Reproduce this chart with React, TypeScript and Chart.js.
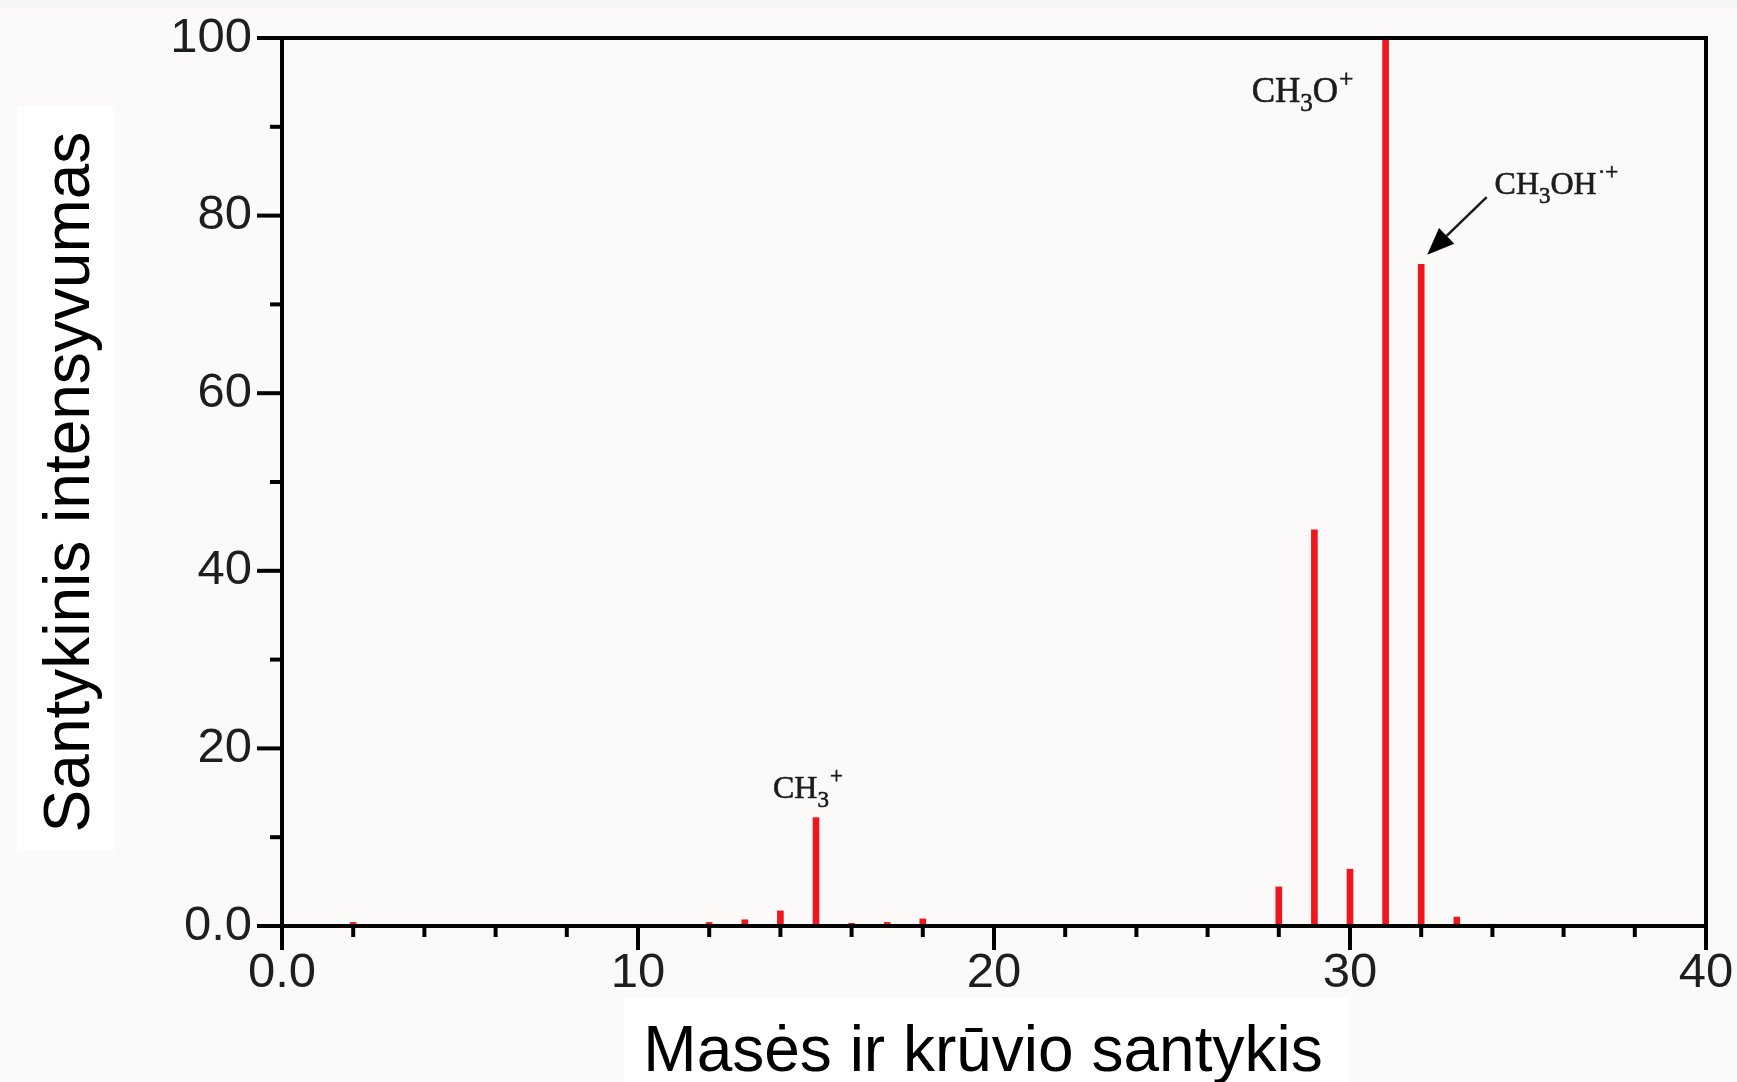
import React, { useEffect, useRef } from 'react';
import { Chart, registerables } from 'chart.js';

Chart.register(...registerables);

// ---- data ----
const massToCharge = [2, 12, 13, 14, 15, 16, 17, 18, 28, 29, 30, 31, 32, 33, 34];
const relativeIntensity = [0.4, 0.4, 0.7, 1.7, 12.2, 0.3, 0.4, 0.8, 4.4, 44.6, 6.4, 100, 74.5, 1.0, 0.2];
const xTickLabels = ['0.0', '10', '20', '30', '40'];
const yTickLabels = ['0.0', '20', '40', '60', '80', '100'];
const xTitle = 'Masės ir krūvio santykis';
const yTitle = 'Santykinis intensyvumas';

// ion labels: parts [text, kind] (n = normal, sub, sup)
const ionLabelParts: [string, string][][] = [
  [['CH', 'n'], ['3', 'sub'], ['+', 'sup']],
  [['CH', 'n'], ['3', 'sub'], ['O', 'n'], ['+', 'sup']],
  [['CH', 'n'], ['3', 'sub'], ['OH', 'n'], ['·+', 'sup']],
];
// anchor (left, baseline) in data coordinates
const ionLabelX = [13.79, 27.24, 34.06];
const ionLabelY = [14.41, 92.79, 82.43];
// arrow from label to CH3OH+ peak, data coordinates
const arrowFrom = [33.84, 82.09];
const arrowTo = [32.17, 75.6];

const W = 1737;
const H = 1082;

const decorPlugin = {
  id: 'decor',
  beforeDraw(chart: any) {
    const ctx = chart.ctx;
    ctx.save();
    ctx.fillStyle = '#fcf9f9';
    ctx.fillRect(0, 0, chart.width, chart.height);
    ctx.fillStyle = '#f6f6f6';
    ctx.fillRect(0, 0, chart.width, 7);
    ctx.restore();
  },
  afterDatasetsDraw(chart: any) {
    const ctx = chart.ctx;
    const xs = chart.scales.x;
    const ys = chart.scales.y;
    const { left, right, top, bottom } = chart.chartArea;
    ctx.save();
    ctx.strokeStyle = '#000';
    ctx.lineWidth = 4;
    ctx.lineCap = 'butt';
    // frame
    ctx.strokeRect(left, top, right - left, bottom - top);
    // x ticks
    for (let v = 0; v <= 40; v += 2) {
      const px = xs.getPixelForValue(v);
      const len = v % 10 === 0 ? 24 : 11;
      ctx.beginPath();
      ctx.moveTo(px, bottom);
      ctx.lineTo(px, bottom + len);
      ctx.stroke();
    }
    // y ticks
    for (let v = 0; v <= 100; v += 10) {
      const py = ys.getPixelForValue(v);
      const len = v % 20 === 0 ? 25 : 12;
      ctx.beginPath();
      ctx.moveTo(left, py);
      ctx.lineTo(left - len, py);
      ctx.stroke();
    }

    // ion labels
    ctx.fillStyle = '#1c1c1c';
    ctx.strokeStyle = '#1c1c1c';
    ctx.lineWidth = 0.6;
    ctx.textBaseline = 'alphabetic';
    ctx.textAlign = 'left';
    const sizes = [32, 35, 32];
    ionLabelParts.forEach((parts, i) => {
      let x = xs.getPixelForValue(ionLabelX[i]);
      const base = ys.getPixelForValue(ionLabelY[i]);
      const fs = sizes[i];
      parts.forEach(([t, kind]) => {
        let yy = base;
        let tx = x;
        if (kind === 'n') {
          ctx.font = `${fs}px "Liberation Serif"`;
        } else if (kind === 'sub') {
          ctx.font = `${Math.round(fs * 0.72)}px "Liberation Serif"`;
          yy = base + 9;
        } else {
          ctx.font = `${Math.round(fs * 0.72)}px "Liberation Serif"`;
          yy = base - 15;
          tx = x + 1;
        }
        ctx.fillText(t, tx, yy);
        ctx.strokeText(t, tx, yy);
        x += ctx.measureText(t).width;
      });
    });

    // arrow
    const x1 = xs.getPixelForValue(arrowFrom[0]);
    const y1 = ys.getPixelForValue(arrowFrom[1]);
    const x2 = xs.getPixelForValue(arrowTo[0]);
    const y2 = ys.getPixelForValue(arrowTo[1]);
    const ang = Math.atan2(y2 - y1, x2 - x1);
    const hl = 27;
    const hw = 11;
    const bx = x2 - hl * Math.cos(ang);
    const by = y2 - hl * Math.sin(ang);
    ctx.strokeStyle = '#1a1a1a';
    ctx.lineWidth = 2.5;
    ctx.beginPath();
    ctx.moveTo(x1, y1);
    ctx.lineTo(bx, by);
    ctx.stroke();
    ctx.fillStyle = '#000';
    ctx.beginPath();
    ctx.moveTo(x2, y2);
    ctx.lineTo(bx + hw * Math.sin(ang), by - hw * Math.cos(ang));
    ctx.lineTo(bx - hw * Math.sin(ang), by + hw * Math.cos(ang));
    ctx.closePath();
    ctx.fill();

    // axis titles in white boxes
    ctx.fillStyle = '#ffffff';
    ctx.fillRect(17, 106, 97, 745);
    ctx.fillRect(624, 997, 725, 85);
    ctx.fillStyle = '#000';
    ctx.font = '64px "Liberation Sans"';
    ctx.textAlign = 'center';
    ctx.textBaseline = 'alphabetic';
    ctx.fillText(xTitle, 983, 1071);
    ctx.save();
    ctx.translate(89, 482);
    ctx.rotate(-Math.PI / 2);
    ctx.fillText(yTitle, 0, 0);
    ctx.restore();

    ctx.restore();
  },
};

const zeroPad = (s: any) => {
  s.paddingLeft = 0;
  s.paddingRight = 0;
  s.paddingTop = 0;
  s.paddingBottom = 0;
};

export default function App() {
  const ref = useRef<HTMLCanvasElement | null>(null);
  useEffect(() => {
    if (!ref.current) return;
    const chart = new Chart(ref.current, {
      type: 'bar',
      data: {
        datasets: [
          {
            data: massToCharge.map((m, i) => ({ x: m, y: relativeIntensity[i] })),
            backgroundColor: '#f0161d',
            borderWidth: 0,
            barThickness: 6,
          },
        ],
      },
      options: {
        animation: false,
        responsive: false,
        devicePixelRatio: 1,
        layout: { padding: { left: 0, top: 38, right: 31, bottom: 0 } },
        plugins: { legend: { display: false }, tooltip: { enabled: false } },
        scales: {
          x: {
            type: 'linear',
            min: 0,
            max: 40,
            offset: false,
            afterFit: (s: any) => {
              s.height = H - 926;
              zeroPad(s);
            },
            grid: { display: false, drawTicks: false, offset: false },
            border: { display: false },
            ticks: {
              stepSize: 10,
              autoSkip: false,
              maxRotation: 0,
              padding: 18,
              color: '#1e1e1e',
              font: { family: 'Liberation Sans', size: 49 },
              callback: (_v: any, i: number) => xTickLabels[i],
            },
          },
          y: {
            type: 'linear',
            min: 0,
            max: 100,
            afterFit: (s: any) => {
              s.width = 282;
              zeroPad(s);
            },
            grid: { display: false, drawTicks: false },
            border: { display: false },
            ticks: {
              stepSize: 20,
              padding: 30,
              color: '#1e1e1e',
              font: { family: 'Liberation Sans', size: 49 },
              callback: (_v: any, i: number) => yTickLabels[i],
            },
          },
        },
      } as any,
      plugins: [decorPlugin],
    });
    return () => chart.destroy();
  }, []);
  return (
    <div style={{ position: 'absolute', left: 0, top: 0, width: W, height: H }}>
      <canvas ref={ref} width={W} height={H} style={{ display: 'block', width: W, height: H }} />
    </div>
  );
}
